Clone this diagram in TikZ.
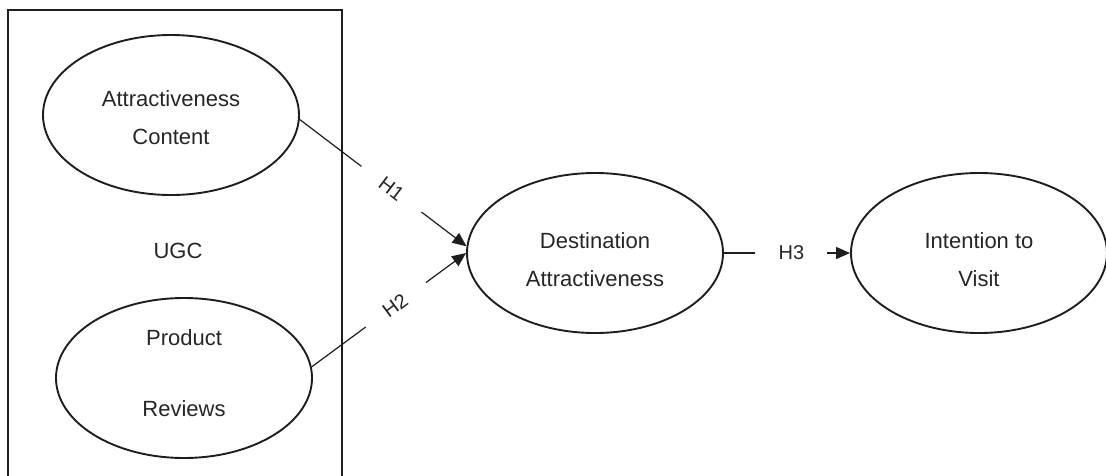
\documentclass[tikz,border=0pt]{standalone}
\usepackage{fontspec}
\setmainfont{Liberation Sans}
\usetikzlibrary{shapes.geometric,arrows.meta}
\definecolor{ink}{HTML}{1E1E1E}
\definecolor{txt}{HTML}{262626}
\tikzset{
  ell/.style={draw=ink, line width=1.9pt, ellipse, minimum width=256pt, minimum height=160pt, inner sep=0pt},
  lbl/.style={text=txt, align=center, inner sep=0pt, font=\fontsize{22}{38}\selectfont},
  hlbl/.style={text=txt, inner sep=0pt, font=\fontsize{20}{24}\selectfont, sloped},
  conn/.style={draw=ink, line width=1.2pt},
  tip/.style={-{Triangle[length=14pt,width=12pt]}},
}
\begin{document}
\begin{tikzpicture}[x=1pt,y=-1pt]
\useasboundingbox (0,0) rectangle (1106,475);
% UGC frame
\draw[draw=ink, line width=1.9pt] (8,480) -- (8,10) -- (342,10) -- (342,480);
% ellipses
\node[ell] (ac) at (171,115) {};
\node[ell] (pr) at (184,378) {};
\node[ell] (da) at (595,253) {};
\node[ell] (iv) at (979,253) {};
% texts
\node[lbl] (tac) at (171,118) {Attractiveness\\Content};
\node[lbl] (tugc) at (178,251) {UGC};
\node[lbl] (tpr) at (184,373) {Product\\[33pt]Reviews};
\node[lbl] (tda) at (595,260) {Destination\\Attractiveness};
\node[lbl] (tiv) at (979,260) {Intention to\\Visit};
% connectors (broken around their labels)
\path (ac.358) -- coordinate[pos=0.37] (h1a) node[hlbl, pos=0.55] (h1) {H1} coordinate[pos=0.73] (h1b) (da.177.5);
\draw[conn] (ac.358) -- (h1a);
\draw[conn, tip] (h1b) -- (da.177.5);
\path (pr.5) -- coordinate[pos=0.35] (h2a) node[hlbl, pos=0.54] (h2) {H2} coordinate[pos=0.74] (h2b) (da.180);
\draw[conn] (pr.5) -- (h2a);
\draw[conn, tip] (h2b) -- (da.180);
\path (da.east) -- coordinate[pos=0.25] (h3a) node[hlbl, pos=0.535] (h3) {H3} coordinate[pos=0.82] (h3b) (iv.west);
\draw[conn] (da.east) -- (h3a);
\draw[conn, tip] (h3b) -- (iv.west);
\end{tikzpicture}
\end{document}
